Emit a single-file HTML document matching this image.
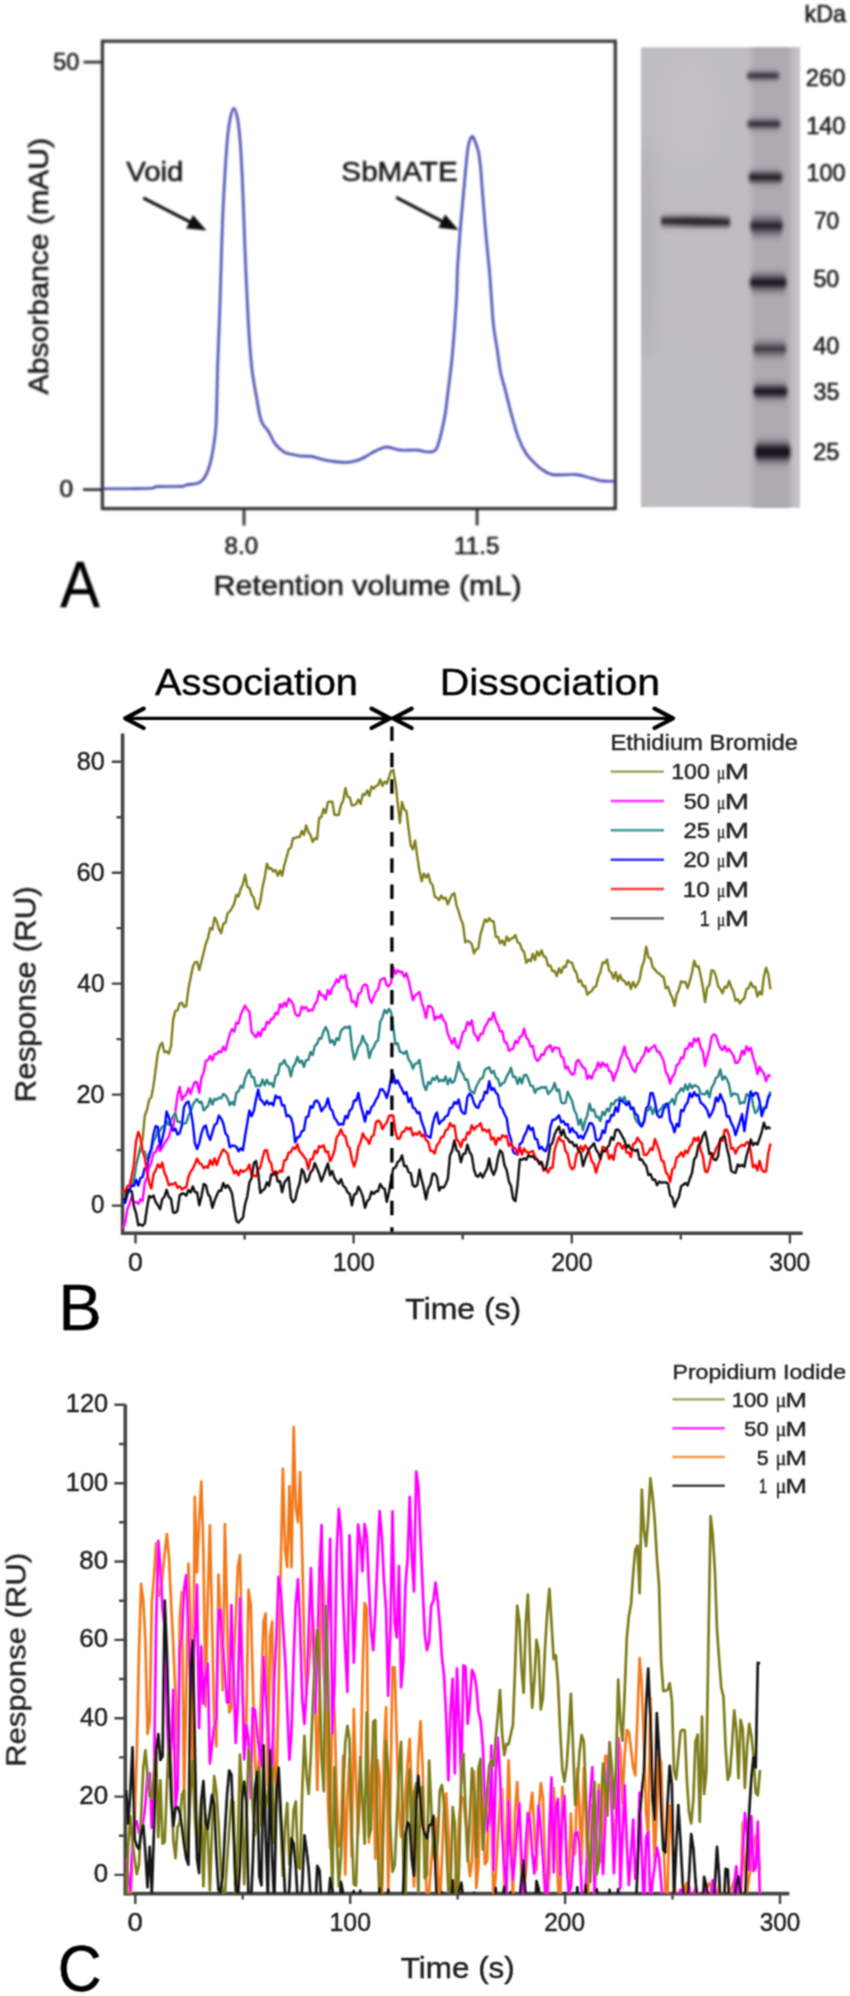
<!DOCTYPE html><html><head><meta charset="utf-8"><style>html,body{margin:0;padding:0;background:#fff;}body{width:850px;height:1996px;overflow:hidden;font-family:"Liberation Sans",sans-serif;}</style></head><body><svg width="850" height="1996" viewBox="0 0 850 1996" style="display:block">
<defs><filter id="bl1" x="-20%" y="-80%" width="140%" height="260%"><feGaussianBlur stdDeviation="1.5 1.9"/></filter><filter id="bl2" x="-20%" y="-80%" width="140%" height="260%"><feGaussianBlur stdDeviation="1.8 3"/></filter><filter id="bl3" x="-10%" y="-10%" width="120%" height="120%"><feGaussianBlur stdDeviation="6"/></filter><filter id="bl4" x="-20%" y="-10%" width="140%" height="120%"><feGaussianBlur stdDeviation="2.5"/></filter><filter id="glob" x="0" y="0" width="850" height="1996" filterUnits="userSpaceOnUse"><feGaussianBlur stdDeviation="0.85"/></filter><filter id="globB" x="0" y="0" width="850" height="1996" filterUnits="userSpaceOnUse"><feConvolveMatrix order="3" kernelMatrix="1 2 1 2 4 2 1 2 1" divisor="16" edgeMode="duplicate" preserveAlpha="false"/></filter></defs>
<rect width="850" height="1996" fill="#fff"/>
<g filter="url(#glob)">
<g>
<rect x="102.4" y="41.2" width="512.9" height="467.4" fill="none" stroke="#333333" stroke-width="3.2"/>
<path d="M83.5,62.2H102.4M83,489.6H102.4M244,508.6V525.5M477.1,508.6V525.5" stroke="#333333" stroke-width="2.8" fill="none"/>
<path d="M103.5,488.8C107.9,488.8 121.9,488.8 130,488.7C138.1,488.6 147.5,488.6 152,488.3C156.5,488 151.8,486.9 156.8,486.6C161.8,486.3 177.1,486.7 182,486.4C186.9,486.1 183.5,485.5 186,485C188.5,484.5 194.4,484.1 197,483.4C199.6,482.7 200.2,482.1 201.5,481C202.8,479.9 203.6,479 204.8,477C206,475 207.4,472.2 208.5,469C209.6,465.8 210.5,462.8 211.5,458C212.5,453.2 213.7,446.3 214.5,440C215.3,433.7 215.8,432.1 216.3,420C216.8,407.9 217.1,384.2 217.6,367.6C218.1,351 218.7,340.2 219.4,320.6C220.1,301.1 221,269.1 221.6,250.3C222.2,231.5 222.5,220.6 223.1,208C223.7,195.4 224.2,186.5 224.9,175C225.6,163.5 226.5,148.7 227.4,139C228.3,129.3 229.4,122.1 230.5,117C231.6,111.9 232.8,108.2 233.9,108.2C235,108.2 236.2,112.5 237.2,117C238.1,121.5 238.9,127.7 239.6,135C240.3,142.3 240.8,150.3 241.4,160.9C242,171.5 242.5,183.7 243.1,198.5C243.7,213.3 244.2,229.7 245,250C245.8,270.4 247.1,301 248.2,320.6C249.3,340.2 250.4,354.9 251.8,367.6C253.2,380.3 254.9,388.2 256.5,397C258.1,405.8 259.2,414.9 261.2,420.6C263.1,426.3 265.8,427.1 268.2,431C270.6,434.9 272.6,440.4 275.3,444C278.1,447.6 281.6,450.6 284.7,452.4C287.8,454.2 291.5,454.1 294.1,454.7C296.8,455.3 297.8,455.7 300.6,456C303.5,456.3 307.7,455.9 311.2,456.4C314.7,456.9 318.3,458.4 321.8,459.2C325.3,460 328.2,460.8 332.4,461.3C336.6,461.8 343,462.6 347.2,462.4C351.4,462.2 354.6,461.2 357.8,460.2C361,459.2 363.4,457.9 366.2,456.4C369,454.9 371.3,452.9 374.7,451.3C378.1,449.8 382.2,447.3 386.4,447.1C390.6,446.9 395,449.6 400.1,450.1C405.2,450.6 412.8,449.8 417,450.1C421.2,450.4 422.8,451.6 425.5,451.8C428.2,452 431.1,452.2 433,451.5C434.9,450.8 435.7,450.9 437.1,447.6C438.5,444.3 440.2,437.2 441.6,431.5C443,425.8 444.2,420.4 445.3,413.5C446.4,406.6 447.1,398.8 448.2,390C449.3,381.2 450.7,371.4 451.8,360.6C452.9,349.8 453.9,336.2 454.7,325.3C455.5,314.4 456.2,304.1 456.7,295C457.1,285.9 457,279.4 457.4,270.6C457.8,261.8 458.7,251 459.3,242.4C459.9,233.8 460.5,227 461.2,218.8C461.9,210.6 462.7,202 463.5,193.4C464.3,184.8 465.1,174.8 465.9,167C466.7,159.2 467.2,151.5 468.2,146.4C469.2,141.3 470.7,137.4 471.8,136.5C472.9,135.6 473.7,138.1 474.8,140.7C475.9,143.3 477.5,147.1 478.5,152C479.5,156.9 480.2,163.7 480.8,170C481.4,176.3 481.7,182.7 482.3,190C482.9,197.3 483.5,205.3 484.2,214C484.9,222.7 485.7,233 486.6,242.4C487.5,251.8 488.6,261.8 489.4,270.6C490.2,279.4 490.5,285.9 491.2,295C491.9,304.1 492.5,316.3 493.5,325.3C494.5,334.3 495.9,341 497.1,348.8C498.3,356.6 499.2,365.5 500.6,372.4C502,379.3 503.5,383.1 505.3,390C507.1,396.9 509,405.6 511.2,413.5C513.4,421.4 515.8,430.6 518.2,437.1C520.6,443.6 522.9,448.2 525.5,452.5C528.1,456.8 531.5,459.9 534.1,462.6C536.7,465.3 538.1,466.9 541.2,468.9C544.3,470.9 546.6,473.7 552.5,474.6C558.4,475.6 570.1,474 576.5,474.6C582.9,475.2 586.4,477.1 590.6,478.1C594.8,479.2 598,480.4 601.9,480.9C605.8,481.4 612,481.1 614,481.2" fill="none" stroke="#474bb0" stroke-width="2.6" stroke-linejoin="round"/>
<line x1="143.2" y1="197.9" x2="191.4" y2="222.6" stroke="#111" stroke-width="3.2"/>
<path d="M206.5,230.4 L186.2,228.4 L193.0,215.0Z" fill="#111"/>
<line x1="396.2" y1="197.4" x2="443.5" y2="222.1" stroke="#111" stroke-width="3.2"/>
<path d="M458.6,230.0 L438.3,227.8 L445.2,214.6Z" fill="#111"/>
</g>
<g>
<text transform="translate(53.16,69.50) scale(0.9742,1)" font-size="24.00" fill="#1e1e1e" font-family="Liberation Sans" stroke="#1e1e1e" stroke-width="0.6" >50</text>
<text transform="translate(59.52,497.10) scale(1.0366,1)" font-size="23.71" fill="#1e1e1e" font-family="Liberation Sans" stroke="#1e1e1e" stroke-width="0.6" >0</text>
<text transform="translate(224.62,553.90) scale(1.0140,1)" font-size="23.71" fill="#1e1e1e" font-family="Liberation Sans" stroke="#1e1e1e" stroke-width="0.6" >8.0</text>
<text transform="translate(454.08,553.90) scale(1.0066,1)" font-size="24.06" fill="#1e1e1e" font-family="Liberation Sans" stroke="#1e1e1e" stroke-width="0.6" >11.5</text>
<text transform="translate(213.56,595.20) scale(1.0824,1)" font-size="28.14" fill="#1a1a1a" font-family="Liberation Sans" stroke="#1a1a1a" stroke-width="0.6" >Retention volume (mL)</text>
<text transform="translate(47.60,394.40) rotate(-90) scale(1.0990,1)" font-size="27.45" fill="#1a1a1a" font-family="Liberation Sans" stroke="#1a1a1a" stroke-width="0.6">Absorbance (mAU)</text>
<text transform="translate(126.15,181.10) scale(1.0619,1)" font-size="27.72" fill="#1a1a1a" font-family="Liberation Sans" stroke="#1a1a1a" stroke-width="0.6" >Void</text>
<text transform="translate(341.37,180.90) scale(1.0430,1)" font-size="28.41" fill="#1a1a1a" font-family="Liberation Sans" stroke="#1a1a1a" stroke-width="0.6" >SbMATE</text>
<text transform="translate(60.30,607.10) scale(0.9207,1)" font-size="64.35" fill="#000" font-family="Liberation Sans" stroke="#000" stroke-width="0.45" >A</text>
<text transform="translate(804.48,21.70) scale(1.0130,1)" font-size="23.03" fill="#1a1a1a" font-family="Liberation Sans" stroke="#1a1a1a" stroke-width="0.6" >kDa</text>
<text transform="translate(805.71,85.60) scale(0.9742,1)" font-size="24.43" fill="#1a1a1a" font-family="Liberation Sans" stroke="#1a1a1a" stroke-width="0.6" >260</text>
<text transform="translate(806.13,133.70) scale(0.9635,1)" font-size="24.43" fill="#1a1a1a" font-family="Liberation Sans" stroke="#1a1a1a" stroke-width="0.6" >140</text>
<text transform="translate(806.55,181.20) scale(0.9586,1)" font-size="24.29" fill="#1a1a1a" font-family="Liberation Sans" stroke="#1a1a1a" stroke-width="0.6" >100</text>
<text transform="translate(813.96,229.20) scale(0.9251,1)" font-size="24.57" fill="#1a1a1a" font-family="Liberation Sans" stroke="#1a1a1a" stroke-width="0.6" >70</text>
<text transform="translate(813.47,287.30) scale(0.9437,1)" font-size="24.57" fill="#1a1a1a" font-family="Liberation Sans" stroke="#1a1a1a" stroke-width="0.6" >50</text>
<text transform="translate(813.23,353.60) scale(0.9473,1)" font-size="24.71" fill="#1a1a1a" font-family="Liberation Sans" stroke="#1a1a1a" stroke-width="0.6" >40</text>
<text transform="translate(813.47,400.20) scale(0.9428,1)" font-size="24.71" fill="#1a1a1a" font-family="Liberation Sans" stroke="#1a1a1a" stroke-width="0.6" >35</text>
<text transform="translate(813.22,459.60) scale(0.9982,1)" font-size="23.57" fill="#1a1a1a" font-family="Liberation Sans" stroke="#1a1a1a" stroke-width="0.6" >25</text>
</g>
<clipPath id="gelclip"><rect x="641" y="47.4" width="158.5" height="459.7"/></clipPath>
<g clip-path="url(#gelclip)">
<rect x="641" y="47.4" width="158.5" height="459.7" fill="#bfbdc2"/>
<g filter="url(#bl3)"><ellipse cx="647" cy="250" rx="7" ry="110" fill="#a9a6ad" opacity="0.6"/><ellipse cx="690" cy="110" rx="35" ry="60" fill="#c6c4c9" opacity="0.35"/><ellipse cx="680" cy="420" rx="35" ry="60" fill="#bebcc1" opacity="0.3"/></g>
<g filter="url(#bl4)"><rect x="752" y="20" width="39" height="520" fill="#adaab1"/><rect x="793" y="20" width="12" height="520" fill="#c4c2c7"/></g>
<rect x="747.5" y="71.3" width="31.0" height="9" rx="4" fill="#3a3640" opacity="0.35" filter="url(#bl2)"/>
<rect x="746.5" y="73.5" width="33.0" height="4.5" rx="3" fill="#1c1820" opacity="0.95" filter="url(#bl1)"/>
<rect x="748" y="118.5" width="31.700000000000045" height="11" rx="4" fill="#3a3640" opacity="0.4" filter="url(#bl2)"/>
<rect x="747" y="121.5" width="33.700000000000045" height="5" rx="3" fill="#1c1820" opacity="0.9" filter="url(#bl1)"/>
<rect x="749.5" y="170.8" width="32.0" height="13" rx="4" fill="#3a3640" opacity="0.45" filter="url(#bl2)"/>
<rect x="748.5" y="173.8" width="34.0" height="7" rx="3" fill="#1c1820" opacity="0.92" filter="url(#bl1)"/>
<rect x="751" y="216.0" width="31" height="20" rx="4" fill="#3a3640" opacity="0.55" filter="url(#bl2)"/>
<rect x="750" y="222.5" width="33" height="7" rx="3" fill="#1c1820" opacity="0.9" filter="url(#bl1)"/>
<rect x="750.7" y="273.0" width="34.89999999999998" height="19" rx="4" fill="#3a3640" opacity="0.55" filter="url(#bl2)"/>
<rect x="749.7" y="278.5" width="36.89999999999998" height="8" rx="3" fill="#1c1820" opacity="1.0" filter="url(#bl1)"/>
<rect x="753.9" y="341.0" width="31.700000000000045" height="16" rx="4" fill="#3a3640" opacity="0.45" filter="url(#bl2)"/>
<rect x="752.9" y="346.0" width="33.700000000000045" height="6" rx="3" fill="#1c1820" opacity="0.62" filter="url(#bl1)"/>
<rect x="754.4" y="383.0" width="32.200000000000045" height="17" rx="4" fill="#3a3640" opacity="0.5" filter="url(#bl2)"/>
<rect x="753.4" y="387.5" width="34.200000000000045" height="8" rx="3" fill="#1c1820" opacity="1.0" filter="url(#bl1)"/>
<rect x="755.9" y="440.5" width="33.60000000000002" height="23" rx="4" fill="#3a3640" opacity="0.55" filter="url(#bl2)"/>
<rect x="754.9" y="446.0" width="35.60000000000002" height="12" rx="3" fill="#1c1820" opacity="1.0" filter="url(#bl1)"/>
<rect x="661" y="216" width="69" height="11" rx="4" fill="#3a3640" opacity="0.4" filter="url(#bl2)"/>
<path d="M661,218 Q700,216 730,219 L730,225.5 Q700,226.5 661,224Z" fill="#26222c" filter="url(#bl1)"/>
</g>
</g><g filter="url(#globB)">
<g>
<path d="M122.6,733.6V1233.3H802.6" fill="none" stroke="#444444" stroke-width="3.6"/>
<path d="M111.8,1205.6H122.3M111.8,1094.6H122.3M111.8,983.6H122.3M111.8,872.7H122.3M111.8,761.7H122.3M116.5,1150.1H122.3M116.5,1039.1H122.3M116.5,928.1H122.3M116.5,817.2H122.3M135.5,1233.3V1243.5M353.6,1233.3V1243.5M571.8,1233.3V1243.5M789.9,1233.3V1243.5M244.6,1233.3V1239.5M462.7,1233.3V1239.5M680.8,1233.3V1239.5" stroke="#444444" stroke-width="2.4" fill="none"/>
</g>
<g fill="none" stroke-width="2.4" stroke-linejoin="round">
<path d="M123,1197 125.2,1196.9 127.4,1192.2 129.5,1189.3 131.7,1179.3 133.9,1178.3 136.1,1165.1 138.3,1155.9 140.4,1147.3 142.6,1139.5 144.8,1115.8 147,1110 149.2,1099.5 151.3,1097.5 153.5,1085.6 155.7,1069 157.9,1052.5 160.1,1045.5 162.2,1042.7 164.4,1052.3 166.6,1051.3 168.8,1053.6 171,1046.2 173.1,1020.1 175.3,1011.1 177.5,1010.4 179.7,1003.4 181.9,1002.8 184,1007 186.2,1006.1 188.4,989 190.6,977.9 192.8,966.7 194.9,962.3 197.1,961.8 199.3,970 201.5,961.1 203.7,952.5 205.8,943.8 208,938.1 210.2,927.9 212.4,929.6 214.6,917.4 216.7,921.1 218.9,928.9 221.1,933.2 223.3,923.7 225.5,922.9 227.6,913.3 229.8,911.3 232,908 234.2,903.6 236.4,894.8 238.5,896.5 240.7,888.8 242.9,884.2 245.1,874.8 247.3,886.9 249.4,887.9 251.6,894.7 253.8,897.9 256,907.5 258.2,908.9 260.3,901.2 262.5,887.2 264.7,877.6 266.9,863.6 269.1,868.7 271.2,868.3 273.4,871.5 275.6,870.1 277.8,875.8 280,870.4 282.1,875.7 284.3,865.2 286.5,857.5 288.7,849.2 290.9,847.8 293,838.2 295.2,838 297.4,836.9 299.6,837.2 301.8,831 303.9,835 306.1,825.5 308.3,831.9 310.5,835.1 312.7,842 314.8,838.3 317,839.2 319.2,817.8 321.4,817 323.6,808.9 325.7,813.1 327.9,802.2 330.1,801.6 332.3,801.8 334.5,814.8 336.6,815 338.8,814.8 341,804.9 343.2,800.7 345.4,788.1 347.5,796.5 349.7,797.3 351.9,805.5 354.1,805.1 356.3,803.8 358.4,799.5 360.6,804 362.8,794.2 365,795 367.2,790.5 369.3,796 371.5,786.4 373.7,788.8 375.9,786 378.1,785.1 380.2,779.4 382.4,785.9 384.6,781.5 386.8,783.6 389,777.5 391.1,770.8 393.3,770.1 395.5,783.2 397.7,803.2 399.9,823.2 402,802 404.2,809.4 406.4,811.2 408.6,829.1 410.8,845.8 412.9,849.5 415.1,840.4 417.3,856.7 419.5,871 421.7,881.2 423.8,873.5 426,877.5 428.2,874.1 430.4,882.4 432.6,885.1 434.7,896.4 436.9,897.7 439.1,900.1 441.3,895.6 443.5,898.7 445.6,897.7 447.8,904.3 450,898.9 452.2,894.5 454.4,893.2 456.5,905.4 458.7,911.7 460.9,919.1 463.1,925 465.3,942.3 467.4,940.9 469.6,941.7 471.8,944.1 474,953.4 476.2,949.1 478.3,948.4 480.5,934.4 482.7,927.2 484.9,919.4 487.1,921.9 489.2,918.3 491.4,921 493.6,921.4 495.8,936.7 498,936.9 500.1,943.4 502.3,940.4 504.5,945.2 506.7,936.5 508.9,940.9 511,938.5 513.2,937.8 515.4,935.1 517.6,942.2 519.8,943.5 521.9,949.4 524.1,951.9 526.3,962.9 528.5,959.6 530.7,961.2 532.8,953.8 535,960.1 537.2,951.5 539.4,955.7 541.6,950.3 543.7,956.5 545.9,957.3 548.1,965.9 550.3,965.4 552.5,971.4 554.6,970.9 556.8,976.2 559,968.3 561.2,973 563.4,966.6 565.5,967.3 567.7,960.3 569.9,962.2 572.1,962.8 574.3,969.8 576.4,972.8 578.6,982 580.8,980.2 583,986.4 585.2,985.8 587.3,994.8 589.5,992.4 591.7,991.2 593.9,987.4 596.1,986.3 598.2,977.4 600.4,972.1 602.6,962.4 604.8,963 607,959.6 609.1,970.5 611.3,972.6 613.5,978.6 615.7,972.2 617.9,981.2 620,974.9 622.2,980 624.4,980.8 626.6,984.7 628.8,982 630.9,989 633.1,981.9 635.3,987.3 637.5,983.9 639.7,978.9 641.8,967.3 644,961.2 646.2,946.6 648.4,957.3 650.6,958.3 652.7,967.1 654.9,969.6 657.1,972.2 659.3,973.7 661.5,976 663.6,977.1 665.8,988.4 668,986.7 670.2,993.5 672.4,997.9 674.5,1005.9 676.7,994.4 678.9,989.6 681.1,981.2 683.3,982.4 685.4,981.8 687.6,988.1 689.8,981.2 692,972.5 694.2,960.6 696.3,966.6 698.5,966.1 700.7,975.8 702.9,987.2 705.1,1002.1 707.2,987.8 709.4,985 711.6,970.3 713.8,970.9 716,976.4 718.1,986.2 720.3,989 722.5,993.3 724.7,986.7 726.9,987.6 729,981 731.2,986.8 733.4,991.8 735.6,1000.7 737.8,999.2 739.9,1003.5 742.1,1000.3 744.3,998.5 746.5,989.1 748.7,987.9 750.8,982.3 753,987 755.2,986.6 757.4,996.6 759.6,991.6 761.7,994.6 763.9,976.6 766.1,967.7 768.3,974.1 770.5,989.4" stroke="#7f7f1e"/>
<path d="M123,1228.1 125.2,1222.6 127.4,1209 129.5,1204.1 131.7,1196.8 133.9,1202.7 136.1,1201.9 138.3,1204 140.4,1199.2 142.6,1201 144.8,1182.4 147,1177.7 149.2,1167.1 151.3,1162.8 153.5,1153 155.7,1152.2 157.9,1145.7 160.1,1151.1 162.2,1147.7 164.4,1143.5 166.6,1140.3 168.8,1137.1 171,1128.7 173.1,1127.9 175.3,1112.5 177.5,1095.3 179.7,1087 181.9,1100 184,1096.4 186.2,1094.3 188.4,1088.2 190.6,1093.9 192.8,1086.7 194.9,1081.9 197.1,1082.7 199.3,1092.9 201.5,1077.5 203.7,1072.4 205.8,1060.8 208,1060.2 210.2,1055.9 212.4,1060.2 214.6,1053.9 216.7,1053.9 218.9,1051.2 221.1,1052.4 223.3,1046.8 225.5,1050.5 227.6,1042 229.8,1034.1 232,1028.9 234.2,1031.9 236.4,1022.5 238.5,1023.7 240.7,1014.7 242.9,1010 245.1,1005.6 247.3,1009.5 249.4,1011.6 251.6,1031.8 253.8,1034.8 256,1037.3 258.2,1032 260.3,1036.3 262.5,1028.9 264.7,1029.6 266.9,1021.8 269.1,1023.5 271.2,1018.8 273.4,1018.5 275.6,1012.7 277.8,1014.2 280,1004.2 282.1,1007.4 284.3,1002.5 286.5,1006.5 288.7,998.5 290.9,1001.1 293,1003.7 295.2,1013.4 297.4,1016.1 299.6,1015.3 301.8,1006.5 303.9,1008.6 306.1,1006.9 308.3,1011.2 310.5,1009.7 312.7,1010.4 314.8,1004.3 317,1001.3 319.2,991.1 321.4,995.4 323.6,995.4 325.7,999.7 327.9,990 330.1,994.4 332.3,987.9 334.5,984.6 336.6,979.4 338.8,982.3 341,975.7 343.2,978.2 345.4,974.9 347.5,988.4 349.7,990.6 351.9,1001.7 354.1,1001.4 356.3,1006.6 358.4,994.1 360.6,993 362.8,986.2 365,984.3 367.2,985.7 369.3,998.1 371.5,1002.9 373.7,997.4 375.9,991.6 378.1,989.4 380.2,980.4 382.4,978.8 384.6,978.2 386.8,985.5 389,986.2 391.1,982.5 393.3,967.3 395.5,974 397.7,970.2 399.9,972 402,971.8 404.2,976.8 406.4,973.2 408.6,980.5 410.8,990.3 412.9,1000.2 415.1,995.5 417.3,994 419.5,991.9 421.7,1002.3 423.8,1008.6 426,1018.1 428.2,1005.9 430.4,1006 432.6,1008.5 434.7,1020 436.9,1016.5 439.1,1018.1 441.3,1014.5 443.5,1020.2 445.6,1022.7 447.8,1033.7 450,1039 452.2,1043.8 454.4,1038.1 456.5,1046.6 458.7,1048.3 460.9,1040.1 463.1,1032 465.3,1030.5 467.4,1022.1 469.6,1025 471.8,1020.3 474,1033.3 476.2,1036.2 478.3,1040.7 480.5,1033.9 482.7,1033.9 484.9,1026.6 487.1,1023.7 489.2,1018.7 491.4,1019.7 493.6,1012.4 495.8,1020.9 498,1024.8 500.1,1031.4 502.3,1031.2 504.5,1042.1 506.7,1042.7 508.9,1050.8 511,1049.5 513.2,1048.6 515.4,1040.7 517.6,1043.2 519.8,1037.1 521.9,1036 524.1,1028.7 526.3,1037.6 528.5,1039.9 530.7,1046.5 532.8,1045.9 535,1057.3 537.2,1060.9 539.4,1059.3 541.6,1054.2 543.7,1055 545.9,1049 548.1,1047 550.3,1045.1 552.5,1051.7 554.6,1047.3 556.8,1048 559,1048.3 561.2,1056.4 563.4,1057.9 565.5,1068.5 567.7,1066.5 569.9,1072.1 572.1,1074.8 574.3,1073.6 576.4,1061.7 578.6,1059.8 580.8,1064 583,1067.6 585.2,1068.4 587.3,1078.9 589.5,1075.5 591.7,1078.7 593.9,1072 596.1,1069.4 598.2,1062.4 600.4,1067.6 602.6,1062.5 604.8,1065.9 607,1064.2 609.1,1070.9 611.3,1071.9 613.5,1080.7 615.7,1073.8 617.9,1068.6 620,1060.7 622.2,1054.7 624.4,1046.4 626.6,1056.1 628.8,1059.2 630.9,1065 633.1,1069.8 635.3,1072.1 637.5,1063.9 639.7,1062.9 641.8,1057.8 644,1055.3 646.2,1047.2 648.4,1051.8 650.6,1048.7 652.7,1046.9 654.9,1045.3 657.1,1051.7 659.3,1051.6 661.5,1056.5 663.6,1060.5 665.8,1071.8 668,1075.7 670.2,1083.5 672.4,1076.7 674.5,1074 676.7,1065.1 678.9,1063.8 681.1,1057.5 683.3,1058.4 685.4,1048.6 687.6,1048.9 689.8,1042.8 692,1046.6 694.2,1038.6 696.3,1041.3 698.5,1038.3 700.7,1047.9 702.9,1051.5 705.1,1066.1 707.2,1057.1 709.4,1049.2 711.6,1037.1 713.8,1034.3 716,1035.7 718.1,1042.4 720.3,1047.8 722.5,1050.1 724.7,1045.8 726.9,1051.3 729,1048.8 731.2,1052.3 733.4,1055.6 735.6,1063.1 737.8,1062.5 739.9,1058.8 742.1,1050.7 744.3,1054.4 746.5,1046.3 748.7,1050.6 750.8,1047.7 753,1057.3 755.2,1063.7 757.4,1074.1 759.6,1066.7 761.7,1070.7 763.9,1073.4 766.1,1081.1 768.3,1075.2 770.5,1076.2" stroke="#ff00ff"/>
<path d="M123,1193.7 125.2,1193.3 127.4,1188 129.5,1191.1 131.7,1184.7 133.9,1180 136.1,1164.2 138.3,1156.5 140.4,1148.3 142.6,1152.2 144.8,1151.5 147,1158.8 149.2,1158.4 151.3,1150.8 153.5,1141 155.7,1137.4 157.9,1129.9 160.1,1130.8 162.2,1126.5 164.4,1127.3 166.6,1120.9 168.8,1125.1 171,1120.4 173.1,1116.3 175.3,1113 177.5,1121.7 179.7,1121.6 181.9,1124 184,1123.6 186.2,1122.9 188.4,1115.8 190.6,1111.5 192.8,1104.9 194.9,1101.3 197.1,1099.1 199.3,1102.7 201.5,1101.7 203.7,1110.5 205.8,1107.9 208,1106 210.2,1098.4 212.4,1104.5 214.6,1098.8 216.7,1099.8 218.9,1097.5 221.1,1098.5 223.3,1094 225.5,1095.3 227.6,1098.7 229.8,1105 232,1102 234.2,1105 236.4,1092.6 238.5,1091.4 240.7,1085.7 242.9,1088 245.1,1078.6 247.3,1073.1 249.4,1069.5 251.6,1077.1 253.8,1077.2 256,1086.4 258.2,1085.5 260.3,1086.2 262.5,1079.6 264.7,1085.4 266.9,1079.8 269.1,1084.3 271.2,1083.1 273.4,1086.9 275.6,1075.7 277.8,1074.5 280,1064 282.1,1064 284.3,1060 286.5,1065.4 288.7,1067 290.9,1076.5 293,1067 295.2,1063.6 297.4,1056.8 299.6,1062.6 301.8,1060.5 303.9,1066.8 306.1,1060.1 308.3,1059.8 310.5,1052 312.7,1055 314.8,1045.9 317,1044 319.2,1038.2 321.4,1038.5 323.6,1031 325.7,1027.1 327.9,1031.6 330.1,1042.6 332.3,1040.2 334.5,1045.1 336.6,1038.2 338.8,1040 341,1030.8 343.2,1028.6 345.4,1026.8 347.5,1027.8 349.7,1026.2 351.9,1046.3 354.1,1059.2 356.3,1053.7 358.4,1046.7 360.6,1043.8 362.8,1035.8 365,1042.3 367.2,1044.9 369.3,1058 371.5,1050.6 373.7,1047.2 375.9,1042.1 378.1,1040.2 380.2,1021.8 382.4,1017.7 384.6,1010 386.8,1013.1 389,1008.8 391.1,1012.1 393.3,1028.2 395.5,1044.3 397.7,1043.3 399.9,1051.9 402,1052.4 404.2,1053.7 406.4,1050.9 408.6,1059.7 410.8,1062.3 412.9,1068.7 415.1,1063.6 417.3,1063.4 419.5,1059.9 421.7,1073.5 423.8,1085.1 426,1090.2 428.2,1082.1 430.4,1083.9 432.6,1077.9 434.7,1080 436.9,1076.1 439.1,1081.6 441.3,1079.7 443.5,1081.3 445.6,1076.4 447.8,1084.3 450,1078.4 452.2,1082.9 454.4,1081.1 456.5,1073 458.7,1062.2 460.9,1071.3 463.1,1073.8 465.3,1079.8 467.4,1079.5 469.6,1089.6 471.8,1091.9 474,1093.4 476.2,1086.7 478.3,1082.8 480.5,1078.7 482.7,1078 484.9,1069.8 487.1,1068.3 489.2,1067.3 491.4,1073.1 493.6,1070.7 495.8,1077.5 498,1079 500.1,1086.1 502.3,1083.4 504.5,1082.3 506.7,1076.5 508.9,1072.9 511,1067.7 513.2,1077 515.4,1076.6 517.6,1083.8 519.8,1077.6 521.9,1083.5 524.1,1075.1 526.3,1074.8 528.5,1079.6 530.7,1085.9 532.8,1085.9 535,1092.8 537.2,1088.6 539.4,1088.7 541.6,1087 543.7,1087.8 545.9,1086.9 548.1,1094 550.3,1091.6 552.5,1088.9 554.6,1082.9 556.8,1091 559,1089.4 561.2,1102.4 563.4,1103.3 565.5,1102.7 567.7,1091.8 569.9,1096.4 572.1,1101.1 574.3,1110.3 576.4,1114.3 578.6,1124.8 580.8,1119.2 583,1130.1 585.2,1120.8 587.3,1115.3 589.5,1103.7 591.7,1110.8 593.9,1109.4 596.1,1117 598.2,1116.7 600.4,1121.1 602.6,1111.7 604.8,1115.2 607,1108.6 609.1,1111.2 611.3,1103.2 613.5,1104.6 615.7,1100.1 617.9,1100.3 620,1097.3 622.2,1101.3 624.4,1096.8 626.6,1103.2 628.8,1101.6 630.9,1108.6 633.1,1109.2 635.3,1118.8 637.5,1122.4 639.7,1124.3 641.8,1123.2 644,1121.6 646.2,1111.5 648.4,1110 650.6,1106.8 652.7,1114.1 654.9,1107.9 657.1,1113.5 659.3,1110.4 661.5,1108.6 663.6,1104.8 665.8,1107.6 668,1104.9 670.2,1102.2 672.4,1099 674.5,1104.6 676.7,1094.5 678.9,1092.4 681.1,1088.2 683.3,1091.3 685.4,1084.5 687.6,1090 689.8,1083.8 692,1088.1 694.2,1085.2 696.3,1085.9 698.5,1087.3 700.7,1093.6 702.9,1094 705.1,1094.4 707.2,1090.5 709.4,1097.4 711.6,1087.6 713.8,1084.2 716,1077.7 718.1,1076.4 720.3,1069.3 722.5,1079.8 724.7,1076.3 726.9,1079.2 729,1084.3 731.2,1096.3 733.4,1093.5 735.6,1094 737.8,1094.6 739.9,1103.7 742.1,1102.3 744.3,1103 746.5,1094.1 748.7,1096 750.8,1091.2 753,1104.7 755.2,1113.1 757.4,1111.4 759.6,1104 761.7,1109.6 763.9,1107.5 766.1,1108 768.3,1096.7 770.5,1091.4" stroke="#2a8282"/>
<path d="M123,1202.8 125.2,1202.9 127.4,1194.5 129.5,1189.4 131.7,1185.1 133.9,1186 136.1,1179.7 138.3,1185.7 140.4,1178.1 142.6,1176.9 144.8,1168.1 147,1167.8 149.2,1153.7 151.3,1148.7 153.5,1134.2 155.7,1126 157.9,1127 160.1,1147.2 162.2,1139.1 164.4,1129.6 166.6,1111.5 168.8,1117.1 171,1125.4 173.1,1130.7 175.3,1128.5 177.5,1134.6 179.7,1133 181.9,1125.4 184,1107.2 186.2,1102.9 188.4,1101.5 190.6,1110.5 192.8,1123.1 194.9,1143.3 197.1,1149 199.3,1143.1 201.5,1133.1 203.7,1127 205.8,1125.5 208,1135.1 210.2,1139.9 212.4,1132.3 214.6,1124.9 216.7,1123.6 218.9,1115.6 221.1,1118.6 223.3,1123.5 225.5,1133.5 227.6,1135.8 229.8,1147.2 232,1145.6 234.2,1145.8 236.4,1146.8 238.5,1151.3 240.7,1148.2 242.9,1150.3 245.1,1135.7 247.3,1123 249.4,1110.5 251.6,1116.3 253.8,1111.1 256,1099.5 258.2,1089.5 260.3,1099.5 262.5,1101.3 264.7,1104.8 266.9,1100.8 269.1,1104.4 271.2,1102.8 273.4,1105.4 275.6,1095.5 277.8,1097.9 280,1097.1 282.1,1105.4 284.3,1105.3 286.5,1116.2 288.7,1115.3 290.9,1117.6 293,1124.8 295.2,1142.4 297.4,1137.4 299.6,1136.6 301.8,1131.4 303.9,1130.2 306.1,1117.4 308.3,1116.4 310.5,1106.2 312.7,1107.8 314.8,1101.3 317,1100.5 319.2,1103.6 321.4,1111.2 323.6,1108 325.7,1105.7 327.9,1098.4 330.1,1108.3 332.3,1110.7 334.5,1118.1 336.6,1120.6 338.8,1124.8 341,1123.9 343.2,1124.6 345.4,1115.9 347.5,1118.2 349.7,1110.7 351.9,1108.7 354.1,1100.5 356.3,1100.5 358.4,1092.9 360.6,1104.9 362.8,1112.8 365,1121.6 367.2,1111.3 369.3,1113.6 371.5,1107.2 373.7,1105 375.9,1099.8 378.1,1096.5 380.2,1089.5 382.4,1089.3 384.6,1092.4 386.8,1098 389,1089.6 391.1,1078.3 393.3,1074.4 395.5,1083.4 397.7,1080.5 399.9,1085.6 402,1089.2 404.2,1094.1 406.4,1092 408.6,1102.1 410.8,1097.9 412.9,1107.7 415.1,1108.7 417.3,1113.1 419.5,1112.2 421.7,1121.9 423.8,1127.4 426,1135.5 428.2,1136.5 430.4,1137.8 432.6,1124.7 434.7,1116.7 436.9,1112.4 439.1,1123.9 441.3,1121.3 443.5,1119.8 445.6,1116.3 447.8,1115.7 450,1108.1 452.2,1107.6 454.4,1102 456.5,1104 458.7,1099.5 460.9,1110 463.1,1113.3 465.3,1113.5 467.4,1097.2 469.6,1093.6 471.8,1096.1 474,1103.1 476.2,1107.1 478.3,1107.9 480.5,1101.3 482.7,1100 484.9,1091.7 487.1,1093.2 489.2,1081.3 491.4,1090 493.6,1088.1 495.8,1092.4 498,1095 500.1,1106.4 502.3,1108.6 504.5,1114.2 506.7,1118.3 508.9,1133.2 511,1139.5 513.2,1151.9 515.4,1153.7 517.6,1154.8 519.8,1143.9 521.9,1142.6 524.1,1136.1 526.3,1132.1 528.5,1125.5 530.7,1129.9 532.8,1127.9 535,1138.7 537.2,1139.5 539.4,1149 541.6,1146.7 543.7,1150.1 545.9,1151.2 548.1,1144.3 550.3,1127.1 552.5,1120 554.6,1119.7 556.8,1118 559,1115.3 561.2,1122.3 563.4,1121 565.5,1124.8 567.7,1124.1 569.9,1132.5 572.1,1128 574.3,1131.8 576.4,1132.8 578.6,1138 580.8,1135.7 583,1138.7 585.2,1133.8 587.3,1129.4 589.5,1123.2 591.7,1123.1 593.9,1127.3 596.1,1139.7 598.2,1140.6 600.4,1138.8 602.6,1130.5 604.8,1132.9 607,1121 609.1,1121.8 611.3,1115 613.5,1115.6 615.7,1107.2 617.9,1111.7 620,1099.8 622.2,1100.8 624.4,1102.8 626.6,1105.2 628.8,1101.6 630.9,1109 633.1,1107.4 635.3,1114 637.5,1115.2 639.7,1124.6 641.8,1126.6 644,1121.7 646.2,1108.1 648.4,1106 650.6,1092.9 652.7,1093.1 654.9,1101.5 657.1,1114.3 659.3,1117.4 661.5,1116.9 663.6,1108.9 665.8,1103.9 668,1103.8 670.2,1120.6 672.4,1125 674.5,1132.3 676.7,1123.7 678.9,1126.6 681.1,1110 683.3,1111.3 685.4,1105.5 687.6,1102.5 689.8,1093.3 692,1097.2 694.2,1092.1 696.3,1095.7 698.5,1094.7 700.7,1102.8 702.9,1104.3 705.1,1106.9 707.2,1110.2 709.4,1117.2 711.6,1113.5 713.8,1108.2 716,1097.5 718.1,1101.5 720.3,1094.1 722.5,1099.6 724.7,1104.3 726.9,1116.6 729,1116.2 731.2,1122.9 733.4,1126.9 735.6,1135.2 737.8,1128.2 739.9,1121.7 742.1,1114.1 744.3,1131.2 746.5,1116.3 748.7,1102.4 750.8,1091.8 753,1096.2 755.2,1092.8 757.4,1093.4 759.6,1101.4 761.7,1116.2 763.9,1109.4 766.1,1107 768.3,1097.5 770.5,1093.9" stroke="#0000ff"/>
<path d="M123,1189.9 125.2,1192.6 127.4,1185.9 129.5,1185.7 131.7,1176.6 133.9,1164.2 136.1,1140.9 138.3,1132 140.4,1137.1 142.6,1150 144.8,1158.2 147,1171.7 149.2,1183.1 151.3,1188.6 153.5,1174.4 155.7,1170.4 157.9,1164.3 160.1,1167.7 162.2,1162.6 164.4,1172.5 166.6,1177.4 168.8,1185.3 171,1184 173.1,1184.2 175.3,1182.6 177.5,1187.7 179.7,1186.4 181.9,1189.4 184,1188 186.2,1187.4 188.4,1176.9 190.6,1171.8 192.8,1168.5 194.9,1164.2 197.1,1158.5 199.3,1163.2 201.5,1164.2 203.7,1168.3 205.8,1166.4 208,1167.7 210.2,1160.2 212.4,1165 214.6,1158.3 216.7,1165.1 218.9,1158.4 221.1,1153.4 223.3,1149.3 225.5,1151.5 227.6,1153.5 229.8,1163.9 232,1167.1 234.2,1173.3 236.4,1170.7 238.5,1175.3 240.7,1169.9 242.9,1171.9 245.1,1170.6 247.3,1169 249.4,1164.5 251.6,1175.3 253.8,1175.6 256,1176.4 258.2,1169.7 260.3,1167.4 262.5,1158 264.7,1150.4 266.9,1150.2 269.1,1160.6 271.2,1163.3 273.4,1175.2 275.6,1171.3 277.8,1173.5 280,1170.6 282.1,1171.8 284.3,1160.5 286.5,1159.7 288.7,1152.4 290.9,1152.4 293,1147.5 295.2,1148.9 297.4,1144.2 299.6,1151.4 301.8,1153.7 303.9,1156.7 306.1,1159.6 308.3,1169.2 310.5,1159.3 312.7,1159.1 314.8,1150.7 317,1153.2 319.2,1146.1 321.4,1147.2 323.6,1145.2 325.7,1152.1 327.9,1151.3 330.1,1161.1 332.3,1157 334.5,1150.6 336.6,1137.6 338.8,1134.5 341,1129.3 343.2,1134.9 345.4,1136.3 347.5,1145.6 349.7,1148 351.9,1159.5 354.1,1166.5 356.3,1159.8 358.4,1146.8 360.6,1142 362.8,1133.4 365,1137.7 367.2,1139.5 369.3,1144 371.5,1136.7 373.7,1135.1 375.9,1122.5 378.1,1120.5 380.2,1122.2 382.4,1129.1 384.6,1125.2 386.8,1122.5 389,1116.1 391.1,1115.2 393.3,1115.6 395.5,1132 397.7,1138.9 399.9,1138.5 402,1132.1 404.2,1131.6 406.4,1127.5 408.6,1129.3 410.8,1127.8 412.9,1135.5 415.1,1133.4 417.3,1134.6 419.5,1131.4 421.7,1136.4 423.8,1134.5 426,1140 428.2,1141.7 430.4,1150.8 432.6,1151 434.7,1153.5 436.9,1145 439.1,1142.9 441.3,1137.1 443.5,1136.6 445.6,1130.3 447.8,1129.4 450,1123.1 452.2,1126.3 454.4,1125.4 456.5,1139.5 458.7,1141.4 460.9,1147.1 463.1,1139.4 465.3,1140 467.4,1132.4 469.6,1133.7 471.8,1125.2 474,1129.8 476.2,1126.7 478.3,1125.8 480.5,1123.2 482.7,1130.6 484.9,1129.5 487.1,1131.8 489.2,1129.7 491.4,1139.7 493.6,1137.4 495.8,1144.7 498,1137.9 500.1,1139.9 502.3,1135.3 504.5,1136.9 506.7,1135.7 508.9,1146.1 511,1143.3 513.2,1147.4 515.4,1148.6 517.6,1154 519.8,1147.1 521.9,1154.6 524.1,1148.6 526.3,1152 528.5,1152.8 530.7,1152 532.8,1150.9 535,1156.7 537.2,1159.8 539.4,1161.4 541.6,1163.6 543.7,1170.7 545.9,1168.8 548.1,1172.6 550.3,1168 552.5,1167.8 554.6,1150.2 556.8,1143 559,1137 561.2,1140.7 563.4,1141 565.5,1150.9 567.7,1154 569.9,1165.5 572.1,1169.4 574.3,1167.1 576.4,1155.2 578.6,1151.3 580.8,1146.1 583,1151.2 585.2,1145.3 587.3,1148.7 589.5,1152.7 591.7,1161 593.9,1164 596.1,1172.8 598.2,1164.9 600.4,1159.5 602.6,1146.7 604.8,1147.9 607,1149.5 609.1,1158.9 611.3,1155 613.5,1159.8 615.7,1147.3 617.9,1143 620,1143.6 622.2,1148.7 624.4,1145.2 626.6,1152.6 628.8,1152.5 630.9,1157.1 633.1,1144.2 635.3,1143.2 637.5,1137.7 639.7,1141.4 641.8,1143.1 644,1154.9 646.2,1155.1 648.4,1152.5 650.6,1148.3 652.7,1150 654.9,1138.9 657.1,1144.8 659.3,1151.1 661.5,1160.6 663.6,1161.3 665.8,1172.1 668,1175 670.2,1181.8 672.4,1168.9 674.5,1167.6 676.7,1157.5 678.9,1156.1 681.1,1152.4 683.3,1156.5 685.4,1150.6 687.6,1153.1 689.8,1146.8 692,1144.4 694.2,1137.8 696.3,1140.7 698.5,1137.1 700.7,1150.1 702.9,1156.1 705.1,1171.4 707.2,1172.2 709.4,1165.6 711.6,1154.7 713.8,1155.1 716,1148.9 718.1,1145.4 720.3,1140.2 722.5,1140.9 724.7,1130 726.9,1129.8 729,1135.2 731.2,1148.8 733.4,1148.1 735.6,1153.6 737.8,1148.2 739.9,1146.6 742.1,1144.7 744.3,1146.1 746.5,1142.5 748.7,1142.2 750.8,1151.8 753,1167.2 755.2,1165 757.4,1170.4 759.6,1160.8 761.7,1169.7 763.9,1171.8 766.1,1171.3 768.3,1153.3 770.5,1143.4" stroke="#ff0000"/>
<path d="M123,1198.7 125.2,1200.1 127.4,1189.8 129.5,1190.9 131.7,1191.2 133.9,1206.3 136.1,1213.4 138.3,1225.2 140.4,1224.5 142.6,1225.7 144.8,1223.3 147,1207.9 149.2,1196 151.3,1197.4 153.5,1195.6 155.7,1202 157.9,1205.2 160.1,1209.3 162.2,1199.2 164.4,1196.8 166.6,1189.8 168.8,1197 171,1198.7 173.1,1212.4 175.3,1212.9 177.5,1210.5 179.7,1195.5 181.9,1193.5 184,1193.7 186.2,1195.7 188.4,1190.1 190.6,1192.5 192.8,1186.5 194.9,1192 197.1,1192.4 199.3,1205.3 201.5,1195.9 203.7,1184 205.8,1185.1 208,1194 210.2,1197.2 212.4,1207.8 214.6,1200.6 216.7,1195.5 218.9,1190.7 221.1,1190.9 223.3,1182.9 225.5,1187.8 227.6,1185.2 229.8,1188.5 232,1193.5 234.2,1208.1 236.4,1220.8 238.5,1222.6 240.7,1219.9 242.9,1217.8 245.1,1204.1 247.3,1196.2 249.4,1182.4 251.6,1178.1 253.8,1163.4 256,1161 258.2,1173.3 260.3,1192.8 262.5,1190.5 264.7,1188.9 266.9,1182.3 269.1,1185.9 271.2,1174.4 273.4,1174.6 275.6,1171.7 277.8,1181.6 280,1181.3 282.1,1192.3 284.3,1182.9 286.5,1179.7 288.7,1176.9 290.9,1197.9 293,1202.2 295.2,1199.8 297.4,1189.8 299.6,1183.5 301.8,1169.2 303.9,1172.5 306.1,1182.2 308.3,1179.9 310.5,1172.4 312.7,1170 314.8,1163.1 317,1168.5 319.2,1173.8 321.4,1181.3 323.6,1175.4 325.7,1169.5 327.9,1163.5 330.1,1175.3 332.3,1171 334.5,1178.1 336.6,1181.2 338.8,1183.7 341,1179 343.2,1185.9 345.4,1187.5 347.5,1192.3 349.7,1193.7 351.9,1205.4 354.1,1194.7 356.3,1193.7 358.4,1186.7 360.6,1190.9 362.8,1196.4 365,1207.8 367.2,1201.1 369.3,1199.2 371.5,1191.7 373.7,1193.9 375.9,1191.2 378.1,1191.2 380.2,1184 382.4,1187.6 384.6,1188.8 386.8,1201.8 389,1192 391.1,1179.5 393.3,1168.4 395.5,1167.5 397.7,1162 399.9,1160.4 402,1155.4 404.2,1166 406.4,1165.9 408.6,1172.2 410.8,1173.3 412.9,1185.2 415.1,1186.7 417.3,1184.9 419.5,1169.7 421.7,1179.9 423.8,1187.9 426,1199.2 428.2,1188.6 430.4,1184.7 432.6,1173.9 434.7,1173.7 436.9,1177.1 439.1,1190.6 441.3,1186.9 443.5,1187.6 445.6,1184.4 447.8,1178.8 450,1155.6 452.2,1150.6 454.4,1140.4 456.5,1150.1 458.7,1151.8 460.9,1162.3 463.1,1154.2 465.3,1153.5 467.4,1144.7 469.6,1152 471.8,1155.6 474,1169.6 476.2,1175.8 478.3,1176.5 480.5,1173.3 482.7,1177.5 484.9,1172.7 487.1,1168.7 489.2,1158.4 491.4,1169.7 493.6,1174.8 495.8,1169.7 498,1157.9 500.1,1150.2 502.3,1152.9 504.5,1165.3 506.7,1170.2 508.9,1181.5 511,1186.1 513.2,1199 515.4,1201.2 517.6,1184.2 519.8,1159.5 521.9,1159.7 524.1,1158.4 526.3,1159.7 528.5,1154.9 530.7,1157 532.8,1155.8 535,1159 537.2,1159.6 539.4,1164.3 541.6,1161.9 543.7,1169.1 545.9,1168.9 548.1,1159 550.3,1145.6 552.5,1142.7 554.6,1134.5 556.8,1129.8 559,1126.6 561.2,1135.5 563.4,1129.9 565.5,1137.1 567.7,1138.7 569.9,1142.4 572.1,1141.9 574.3,1146.2 576.4,1144.7 578.6,1150.9 580.8,1152.6 583,1166.1 585.2,1158.9 587.3,1153.8 589.5,1148.3 591.7,1146.2 593.9,1143.2 596.1,1149.8 598.2,1152.7 600.4,1158.9 602.6,1150.2 604.8,1151.6 607,1147.9 609.1,1145.1 611.3,1137.2 613.5,1139.7 615.7,1130.1 617.9,1129.5 620,1132 622.2,1136.3 624.4,1140.2 626.6,1147.7 628.8,1145 630.9,1149.2 633.1,1149.4 635.3,1151 637.5,1149.4 639.7,1159.7 641.8,1159.5 644,1163.4 646.2,1166 648.4,1175 650.6,1174.1 652.7,1179.9 654.9,1179.4 657.1,1185.2 659.3,1181.5 661.5,1182.8 663.6,1182.3 665.8,1182.4 668,1183.5 670.2,1195.4 672.4,1197.6 674.5,1206.7 676.7,1201.3 678.9,1197 681.1,1186.4 683.3,1184.7 685.4,1183 687.6,1185.5 689.8,1178.7 692,1172.9 694.2,1159.3 696.3,1156.6 698.5,1145.4 700.7,1143.2 702.9,1135.7 705.1,1131.8 707.2,1141 709.4,1154.1 711.6,1153.1 713.8,1159.6 716,1160.1 718.1,1156.1 720.3,1139.2 722.5,1137.1 724.7,1136.2 726.9,1148 729,1156.4 731.2,1170.8 733.4,1172.4 735.6,1172.8 737.8,1164.4 739.9,1166.4 742.1,1164.8 744.3,1166.9 746.5,1156.1 748.7,1148.7 750.8,1139.5 753,1145.2 755.2,1142.9 757.4,1144.5 759.6,1138.4 761.7,1132.1 763.9,1122.7 766.1,1128.8 768.3,1127.2 770.5,1128.9" stroke="#0a0a0a"/>
</g>
<g>
<line x1="391.9" y1="726.5" x2="391.9" y2="1232" stroke="#000" stroke-width="3.3" stroke-dasharray="14.5 11.85"/>
<path d="M125,718.3H673" stroke="#000" stroke-width="3.2" fill="none"/>
<path d="M143.6,708.6L125.2,718.3L143.6,728M371.6,708.6L390,718.3L371.6,728M411.6,708.6L393.2,718.3L411.6,728M654.6,708.6L673,718.3L654.6,728" stroke="#000" stroke-width="4.2" fill="none" stroke-linecap="round" stroke-linejoin="round"/>
<text transform="translate(155.10,695.20) scale(1.0857,1)" font-size="36.55" fill="#000" font-family="Liberation Sans" stroke="#000" stroke-width="0.45" >Association</text>
<text transform="translate(439.63,695.20) scale(1.0936,1)" font-size="37.38" fill="#000" font-family="Liberation Sans" stroke="#000" stroke-width="0.45" >Dissociation</text>
<text transform="translate(76.66,769.58) scale(0.9817,1)" font-size="25.71" fill="#222" font-family="Liberation Sans" stroke="#222" stroke-width="0.45" >80</text>
<text transform="translate(76.53,880.56) scale(0.9864,1)" font-size="25.71" fill="#222" font-family="Liberation Sans" stroke="#222" stroke-width="0.45" >60</text>
<text transform="translate(77.31,991.54) scale(0.9584,1)" font-size="25.71" fill="#222" font-family="Liberation Sans" stroke="#222" stroke-width="0.45" >40</text>
<text transform="translate(76.53,1102.52) scale(0.9864,1)" font-size="25.71" fill="#222" font-family="Liberation Sans" stroke="#222" stroke-width="0.45" >20</text>
<text transform="translate(91.03,1212.70) scale(0.9295,1)" font-size="26.00" fill="#222" font-family="Liberation Sans" stroke="#222" stroke-width="0.45" >0</text>
<text transform="translate(128.03,1271.20) scale(1.0145,1)" font-size="26.29" fill="#222" font-family="Liberation Sans" stroke="#222" stroke-width="0.45" >0</text>
<text transform="translate(332.81,1271.20) scale(0.9590,1)" font-size="26.29" fill="#222" font-family="Liberation Sans" stroke="#222" stroke-width="0.45" >100</text>
<text transform="translate(551.26,1271.20) scale(0.9439,1)" font-size="26.29" fill="#222" font-family="Liberation Sans" stroke="#222" stroke-width="0.45" >200</text>
<text transform="translate(769.21,1271.20) scale(0.9379,1)" font-size="26.29" fill="#222" font-family="Liberation Sans" stroke="#222" stroke-width="0.45" >300</text>
<text transform="translate(405.36,1318.90) scale(1.0562,1)" font-size="30.21" fill="#222" font-family="Liberation Sans" stroke="#222" stroke-width="0.45" >Time (s)</text>
<text transform="translate(35.50,1102.41) rotate(-90) scale(1.0440,1)" font-size="30.07" fill="#222" font-family="Liberation Sans" stroke="#222" stroke-width="0.45">Response (RU)</text>
<text transform="translate(58.41,1329.70) scale(1.0102,1)" font-size="64.20" fill="#000" font-family="Liberation Sans" stroke="#000" stroke-width="0.45" >B</text>
<text transform="translate(610.40,750.10) scale(1.0651,1)" font-size="22.34" fill="#252525" font-family="Liberation Sans" stroke="#252525" stroke-width="0.45" >Ethidium Bromide</text>
<line x1="610.6" y1="771.6" x2="664" y2="771.6" stroke="#9b9b50" stroke-width="2.4"/>
<text transform="translate(671.16,779.20) scale(1.0876,1)" font-size="21.29" fill="#222" font-family="Liberation Sans" stroke="#222" stroke-width="0.45" >100</text>
<text transform="translate(716.81,779.20) scale(0.8252,1)" font-size="19.57" fill="#222" font-family="Liberation Serif" stroke="#222" stroke-width="0.3" >μ</text>
<text transform="translate(724.66,779.20) scale(1.3547,1)" font-size="21.59" fill="#222" font-family="Liberation Sans" stroke="#222" stroke-width="0.45" >M</text>
<line x1="610.6" y1="801.0" x2="664" y2="801.0" stroke="#ff33ff" stroke-width="2.4"/>
<text transform="translate(683.66,808.56) scale(1.1030,1)" font-size="21.29" fill="#222" font-family="Liberation Sans" stroke="#222" stroke-width="0.45" >50</text>
<text transform="translate(716.81,808.56) scale(0.8252,1)" font-size="19.57" fill="#222" font-family="Liberation Serif" stroke="#222" stroke-width="0.3" >μ</text>
<text transform="translate(724.66,808.56) scale(1.3547,1)" font-size="21.59" fill="#222" font-family="Liberation Sans" stroke="#222" stroke-width="0.45" >M</text>
<line x1="610.6" y1="830.3" x2="664" y2="830.3" stroke="#3f9c9c" stroke-width="2.4"/>
<text transform="translate(683.41,837.92) scale(1.1192,1)" font-size="21.29" fill="#222" font-family="Liberation Sans" stroke="#222" stroke-width="0.45" >25</text>
<text transform="translate(716.81,837.92) scale(0.8252,1)" font-size="19.57" fill="#222" font-family="Liberation Serif" stroke="#222" stroke-width="0.3" >μ</text>
<text transform="translate(724.66,837.92) scale(1.3547,1)" font-size="21.59" fill="#222" font-family="Liberation Sans" stroke="#222" stroke-width="0.45" >M</text>
<line x1="610.6" y1="859.7" x2="664" y2="859.7" stroke="#3333ff" stroke-width="2.4"/>
<text transform="translate(683.41,867.28) scale(1.1138,1)" font-size="21.29" fill="#222" font-family="Liberation Sans" stroke="#222" stroke-width="0.45" >20</text>
<text transform="translate(716.81,867.28) scale(0.8252,1)" font-size="19.57" fill="#222" font-family="Liberation Serif" stroke="#222" stroke-width="0.3" >μ</text>
<text transform="translate(724.66,867.28) scale(1.3547,1)" font-size="21.59" fill="#222" font-family="Liberation Sans" stroke="#222" stroke-width="0.45" >M</text>
<line x1="610.6" y1="889.0" x2="664" y2="889.0" stroke="#ff3b3b" stroke-width="2.4"/>
<text transform="translate(682.78,896.64) scale(1.1416,1)" font-size="21.29" fill="#222" font-family="Liberation Sans" stroke="#222" stroke-width="0.45" >10</text>
<text transform="translate(716.81,896.64) scale(0.8252,1)" font-size="19.57" fill="#222" font-family="Liberation Serif" stroke="#222" stroke-width="0.3" >μ</text>
<text transform="translate(724.66,896.64) scale(1.3547,1)" font-size="21.59" fill="#222" font-family="Liberation Sans" stroke="#222" stroke-width="0.45" >M</text>
<line x1="610.6" y1="918.4" x2="664" y2="918.4" stroke="#555555" stroke-width="2.4"/>
<text transform="translate(699.64,926.00) scale(0.8410,1)" font-size="21.59" fill="#222" font-family="Liberation Sans" stroke="#222" stroke-width="0.45" >1</text>
<text transform="translate(716.81,926.00) scale(0.8252,1)" font-size="19.57" fill="#222" font-family="Liberation Serif" stroke="#222" stroke-width="0.3" >μ</text>
<text transform="translate(724.66,926.00) scale(1.3547,1)" font-size="21.59" fill="#222" font-family="Liberation Sans" stroke="#222" stroke-width="0.45" >M</text>
</g>
<g>
<path d="M125.3,1404.4V1893.6H789.3" fill="none" stroke="#444444" stroke-width="3.6"/>
<path d="M114.4,1874.9H125.3M114.4,1796.6H125.3M114.4,1718.2H125.3M114.4,1639.9H125.3M114.4,1561.5H125.3M114.4,1483.2H125.3M114.4,1404.8H125.3M119,1835.7H125.3M119,1757.4H125.3M119,1679.0H125.3M119,1600.7H125.3M119,1522.3H125.3M119,1444.0H125.3M135.3,1893.6V1904M350.2,1893.6V1904M565.1,1893.6V1904M780.0,1893.6V1904M242.7,1893.6V1899.5M457.6,1893.6V1899.5M672.5,1893.6V1899.5" stroke="#444444" stroke-width="2.4" fill="none"/>
</g>
<clipPath id="cclip"><rect x="125.5" y="1380" width="680" height="513.6"/></clipPath>
<g clip-path="url(#cclip)"><g fill="none" stroke-width="2.7" stroke-linejoin="round">
<path d="M126.1,1872.1 128.2,1896.8 130.4,1904.4 132.5,1847.1 134.7,1817 136.8,1753.2 139,1651.1 141.1,1583.8 143.3,1600.7 145.4,1641.1 147.5,1734 149.7,1720.5 151.8,1602.6 154,1576.8 156.1,1543.3 158.3,1596.1 160.4,1594.3 162.6,1574.1 164.7,1553.7 166.9,1534.2 169,1557.3 171.2,1604.7 173.3,1645.3 175.5,1695.9 177.6,1766.8 179.8,1616.6 181.9,1592 184.1,1796.6 186.2,1694.6 188.4,1563.7 190.5,1620.4 192.7,1767.1 194.8,1496.9 197,1572.5 199.1,1520.8 201.3,1481.5 203.4,1550.2 205.6,1706.3 207.7,1601.5 209.9,1525.3 212,1619.3 214.2,1721.2 216.3,1746.2 218.5,1574.6 220.6,1623.2 222.8,1690.1 224.9,1524.2 227.1,1612.1 229.2,1712.4 231.4,1707.9 233.5,1664.3 235.7,1620.4 237.8,1567.6 240,1555 242.1,1648.2 244.2,1749.5 246.4,1721.3 248.5,1589.7 250.7,1604.5 252.8,1680.5 255,1760.1 257.1,1790.6 259.3,1752.6 261.4,1686.7 263.6,1621.4 265.7,1613.3 267.9,1786.6 270,1636.6 272.2,1621.6 274.3,1772.6 276.5,1786 278.6,1691.5 280.8,1563.1 282.9,1468.8 285.1,1549.9 287.2,1567 289.4,1486.4 291.5,1567.3 293.7,1427 295.8,1507.4 298,1521.9 300.1,1472.1 302.3,1556.1 304.4,1655.9 306.6,1691.8 308.7,1669.6 310.9,1638.6 313,1616.5 315.2,1694.4 317.3,1789.9 319.5,1692 321.6,1566.2 323.8,1586.7 325.9,1689.4 328.1,1804.6 330.2,1848 332.4,1682 334.5,1712.5 336.7,1793.2 338.8,1846.5 340.9,1838.7 343.1,1755.8 345.2,1874.6 347.4,1794.9 349.5,1758.5 351.7,1856.5 353.8,1709.1 356,1779.3 358.1,1834.6 360.3,1788 362.4,1683.9 364.6,1603 366.7,1608.1 368.9,1842.5 371,1775.8 373.2,1743.2 375.3,1858.7 377.5,1760.1 379.6,1776.5 381.8,1921.5 383.9,1754.7 386.1,1707.3 388.2,1891.8 390.4,1795.9 392.5,1667.3 394.7,1667.4 396.8,1740.8 399,1808.8 401.1,1836.7 403.3,1825.7 405.4,1793.7 407.6,1763.2 409.7,1738.9 411.9,1802.2 414,1886.5 416.2,1826.8 418.3,1755.2 420.5,1721.3 422.6,1766.8 424.8,1845.3 426.9,1902.1 429.1,1892.2 431.2,1863.4 433.4,1835.5 435.5,1818.4 437.7,1864.2 439.8,1908.8 441.9,1860.9 444.1,1802.8 446.2,1793.4 448.4,1834.5 450.5,1882.3 452.7,1902.6 454.8,1888.9 457,1862.1 459.1,1819.3 461.3,1796 463.4,1800.1 465.6,1821.4 467.7,1853.3 469.9,1876.2 472,1860.8 474.2,1771.6 476.3,1888 478.5,1863.9 480.6,1768 482.8,1802.1 484.9,1864.2 487.1,1861.3 489.2,1782.3 491.4,1814.9 493.5,1897.9 495.7,1875.7 497.8,1837.2 500,1802.4 502.1,1789.2 504.3,1884.7 506.4,1837.3 508.6,1760.4 510.7,1826.6 512.9,1900.7 515,1813.6 517.2,1782.1 519.3,1826.1 521.5,1872 523.6,1889.1 525.8,1873.4 527.9,1841.1 530.1,1810.4 532.2,1792.5 534.4,1829.3 536.5,1869.9 538.6,1812.6 540.8,1783 542.9,1797.7 545.1,1865 547.2,1902 549.4,1872.7 551.5,1798.7 553.7,1787.9 555.8,1825.7 558,1883.3 560.1,1913 562.3,1786.8 564.4,1814.7 566.6,1855.6 568.7,1887.1 570.9,1813.7 573,1856.7 575.2,1852.5 577.3,1768.8 579.5,1810.1 581.6,1864.9 583.8,1768.1 585.9,1814 588.1,1892.3 590.2,1857.8 592.4,1804 594.5,1897.9 596.7,1820.6 598.8,1784.7 601,1861.7 603.1,1822.1 605.3,1755.8 607.4,1756.9 609.6,1777.7 611.7,1808.2 613.9,1831.9 616,1822.3 618.2,1737.6 620.3,1749.5 622.5,1803.7 624.6,1755.3 626.8,1730.1 628.9,1731.7 631.1,1749.5 633.2,1767.6 635.3,1775.4 637.5,1716.6 639.6,1658 641.8,1685.7 643.9,1741.3 646.1,1812.7 648.2,1837.5 650.4,1697.9 652.5,1791.8 654.7,1864.9 656.8,1808.9 659,1754.8 661.1,1763.1 663.3,1831.5 665.4,1891.8 667.6,1893 669.7,1805.5 671.9,1831.4 674,1867.6 676.2,1912.6 678.3,1909 680.5,1916.4 682.6,1901.4 684.8,1887.8 686.9,1882.6 689.1,1918.3 691.2,1913.4 693.4,1894.6 695.5,1893.2 697.7,1892.9 699.8,1909.5 702,1909.2 704.1,1904.7 706.3,1891.8 708.4,1883.8 710.6,1883.3 712.7,1900.6 714.9,1914.8 717,1907.1 719.2,1884 721.3,1909.4 723.5,1893.4 725.6,1901.6 727.8,1926.7 729.9,1891 732,1886.9 734.2,1880.3 736.3,1897.5 738.5,1894 740.6,1898.6 742.8,1822.4 744.9,1870.9 747.1,1891.8 749.2,1876.1 751.4,1865.8 753.5,1846.9 755.7,1834.9 757.8,1841.8 760,1870.8" stroke="#f27a1e"/>
<path d="M126.1,1859.1 128.2,1876.7 130.4,1890.7 132.5,1842.7 134.7,1822.2 136.8,1821.3 139,1833 141.1,1828.2 143.3,1821.3 145.4,1803.8 147.5,1774.4 149.7,1773.1 151.8,1827.8 154,1780.4 156.1,1626.2 158.3,1540.8 160.4,1566.9 162.6,1609.5 164.7,1628.1 166.9,1709.4 169,1777.5 171.2,1745.1 173.3,1689.9 175.5,1807.1 177.6,1789 179.8,1647.4 181.9,1635.1 184.1,1588.8 186.2,1575.2 188.4,1625.5 190.5,1692.4 192.7,1674.1 194.8,1633 197,1584.7 199.1,1727.9 201.3,1646.3 203.4,1704 205.6,1676.1 207.7,1663.4 209.9,1763.4 212,1745.2 214.2,1727.7 216.3,1718.8 218.5,1610.3 220.6,1609.7 222.8,1645.8 224.9,1673.4 227.1,1702.7 229.2,1702.7 231.4,1605 233.5,1673.8 235.7,1742.9 237.8,1704.4 240,1597.8 242.1,1671.6 244.2,1759.3 246.4,1725.2 248.5,1738.6 250.7,1798.4 252.8,1707.9 255,1709.8 257.1,1733.3 259.3,1750.2 261.4,1765.8 263.6,1656.8 265.7,1690.7 267.9,1726.2 270,1769.5 272.2,1763.9 274.3,1675.1 276.5,1636.3 278.6,1576.7 280.8,1591.3 282.9,1625.4 285.1,1658.2 287.2,1705.3 289.4,1759.7 291.5,1731.8 293.7,1657.3 295.8,1603.6 298,1579.4 300.1,1624.7 302.3,1699.6 304.4,1724 306.6,1691.5 308.7,1630.2 310.9,1568.2 313,1627.3 315.2,1712.9 317.3,1654.9 319.5,1570.6 321.6,1525.1 323.8,1669.6 325.9,1708.9 328.1,1609.2 330.2,1538.9 332.4,1733.5 334.5,1684.6 336.7,1552.2 338.8,1508.9 340.9,1529.3 343.1,1597.5 345.2,1650.1 347.4,1691.8 349.5,1535.3 351.7,1586.7 353.8,1662.7 356,1607.2 358.1,1524.5 360.3,1540 362.4,1571.3 364.6,1524.2 366.7,1535.5 368.9,1585.9 371,1629.7 373.2,1650.2 375.3,1612.5 377.5,1560.2 379.6,1511 381.8,1536.2 383.9,1579.1 386.1,1610.4 388.2,1695.6 390.4,1628.4 392.5,1511.4 394.7,1623.2 396.8,1637.4 399,1566.2 401.1,1687.5 403.3,1662 405.4,1586.1 407.6,1558.5 409.7,1496.9 411.9,1557.1 414,1591.5 416.2,1471.5 418.3,1485.9 420.5,1538.8 422.6,1586.3 424.8,1633.9 426.9,1650.2 429.1,1641.9 431.2,1605.6 433.4,1601.2 435.5,1582.7 437.7,1600.6 439.8,1623.9 441.9,1657.1 444.1,1676.1 446.2,1717.7 448.4,1780.1 450.5,1708.7 452.7,1678.8 454.8,1773.3 457,1668.4 459.1,1721.8 461.3,1782.9 463.4,1665.4 465.6,1666.9 467.7,1723.7 469.9,1700.8 472,1669.9 474.2,1674.7 476.3,1685.9 478.5,1712 480.6,1720.2 482.8,1745.8 484.9,1798.7 487.1,1831.3 489.2,1818.6 491.4,1745.6 493.5,1870.5 495.7,1773.4 497.8,1737.5 500,1775.9 502.1,1829.4 504.3,1869.6 506.4,1893.9 508.6,1801.2 510.7,1852.5 512.9,1879.8 515,1856.6 517.2,1826.3 519.3,1803 521.5,1854.7 523.6,1901.6 525.8,1843.9 527.9,1812.9 530.1,1820.9 532.2,1852.2 534.4,1873.5 536.5,1851.7 538.6,1805.6 540.8,1828 542.9,1857.9 545.1,1891.1 547.2,1899.2 549.4,1826.7 551.5,1777.5 553.7,1872.4 555.8,1806.4 558,1798.9 560.1,1875.3 562.3,1813.5 564.4,1795.8 566.6,1862.1 568.7,1894.1 570.9,1886.4 573,1854.8 575.2,1833 577.3,1831.9 579.5,1844.5 581.6,1888.6 583.8,1908.3 585.9,1882.2 588.1,1833.4 590.2,1795.8 592.4,1767.2 594.5,1893.2 596.7,1835.3 598.8,1790.4 601,1840.5 603.1,1873.9 605.3,1819.4 607.4,1773.5 609.6,1744.5 611.7,1802.9 613.9,1873.3 616,1830.9 618.2,1739.1 620.3,1888.3 622.5,1835.8 624.6,1785 626.8,1844.2 628.9,1885 631.1,1852.6 633.2,1819.7 635.3,1878.9 637.5,1860 639.6,1792.8 641.8,1854.8 643.9,1910 646.1,1837.4 648.2,1832 650.4,1904.9 652.5,1882.1 654.7,1866 656.8,1847.3 659,1857.4 661.1,1881.5 663.3,1907.2 665.4,1910.7 667.6,1902.8 669.7,1893.7 671.9,1900.5 674,1912.3 676.2,1914.9 678.3,1896.5 680.5,1889.7 682.6,1899.6 684.8,1909.7 686.9,1898.9 689.1,1886.4 691.2,1906.3 693.4,1898.5 695.5,1887.7 697.7,1919.8 699.8,1919.8 702,1906.7 704.1,1887 706.3,1905.5 708.4,1917.9 710.6,1898.1 712.7,1880.2 714.9,1885.6 717,1896.7 719.2,1908.4 721.3,1913.1 723.5,1911 725.6,1898.7 727.8,1901.3 729.9,1905.6 732,1911.4 734.2,1884.7 736.3,1866.3 738.5,1891.4 740.6,1894 742.8,1850.6 744.9,1812.9 747.1,1832.5 749.2,1870.2 751.4,1816.2 753.5,1871.2 755.7,1867.3 757.8,1821.7 760,1899.5" stroke="#ff00ff"/>
<path d="M126.1,1911.1 128.2,1845.5 130.4,1816.4 132.5,1842.5 134.7,1859.8 136.8,1874.2 139,1864.6 141.1,1817.4 143.3,1767.3 145.4,1750.4 147.5,1774.2 149.7,1796.5 151.8,1797.8 154,1772 156.1,1750.1 158.3,1837.1 160.4,1780.4 162.6,1843.7 164.7,1842.2 166.9,1785.6 169,1738.1 171.2,1767.9 173.3,1839.9 175.5,1858.2 177.6,1827.5 179.8,1822.2 181.9,1794.6 184.1,1790.1 186.2,1858.2 188.4,1837 190.5,1791.5 192.7,1761 194.8,1817.3 197,1848.2 199.1,1825.8 201.3,1800.6 203.4,1886.3 205.6,1815.3 207.7,1832.4 209.9,1890.5 212,1828.5 214.2,1776.2 216.3,1791.2 218.5,1823.5 220.6,1864.7 222.8,1896.8 224.9,1894.6 227.1,1860.4 229.2,1828.8 231.4,1799.4 233.5,1802.1 235.7,1907.9 237.8,1842.6 240,1754.5 242.1,1796.3 244.2,1884.2 246.4,1826.4 248.5,1748 250.7,1764.6 252.8,1809.1 255,1835.5 257.1,1822.8 259.3,1767.1 261.4,1826.3 263.6,1821.5 265.7,1806.2 267.9,1793.1 270,1775.9 272.2,1767.5 274.3,1842.9 276.5,1795.1 278.6,1779.1 280.8,1827.8 282.9,1875.8 285.1,1826 287.2,1803.2 289.4,1864.4 291.5,1850.4 293.7,1809.8 295.8,1801.5 298,1866.9 300.1,1868.7 302.3,1788.9 304.4,1735.8 306.6,1776.4 308.7,1793.8 310.9,1754.2 313,1700.5 315.2,1652.8 317.3,1629.4 319.5,1676.3 321.6,1758 323.8,1791.2 325.9,1606 328.1,1680.6 330.2,1824.8 332.4,1885.9 334.5,1767.2 336.7,1837.7 338.8,1886.5 340.9,1856.1 343.1,1794.5 345.2,1743.4 347.4,1725.8 349.5,1739.3 351.7,1831.9 353.8,1884.3 356,1885.6 358.1,1819.1 360.3,1757.1 362.4,1799.3 364.6,1843.7 366.7,1712.3 368.9,1836.6 371,1829.5 373.2,1721.8 375.3,1719.9 377.5,1833.7 379.6,1905 381.8,1882.7 383.9,1806.7 386.1,1741.2 388.2,1770.2 390.4,1830.5 392.5,1871.8 394.7,1865.4 396.8,1819.8 399,1767.3 401.1,1741.9 403.3,1862.9 405.4,1900.2 407.6,1792.4 409.7,1769 411.9,1851.4 414,1793.9 416.2,1783.2 418.3,1895.8 420.5,1790.7 422.6,1786.7 424.8,1878.3 426.9,1875 429.1,1760.5 431.2,1805 433.4,1853.8 435.5,1861.6 437.7,1840.8 439.8,1790.7 441.9,1785 444.1,1804 446.2,1839.5 448.4,1892.7 450.5,1891 452.7,1807.2 454.8,1823.6 457,1920.1 459.1,1865.2 461.3,1772.3 463.4,1753.6 465.6,1809.8 467.7,1861 469.9,1816.9 472,1768.4 474.2,1792.7 476.3,1857.4 478.5,1768.3 480.6,1758.7 482.8,1849.7 484.9,1820 487.1,1792.1 489.2,1765.7 491.4,1760.2 493.5,1766.3 495.7,1738.3 497.8,1716.6 500,1690.1 502.1,1733.6 504.3,1755.1 506.4,1744.2 508.6,1744.3 510.7,1734.5 512.9,1725.2 515,1670.5 517.2,1605.7 519.3,1620.4 521.5,1667.9 523.6,1692.7 525.8,1622.6 527.9,1594.7 530.1,1656.1 532.2,1707.6 534.4,1680.4 536.5,1639.9 538.6,1650.4 540.8,1709.5 542.9,1698.1 545.1,1646.7 547.2,1613.5 549.4,1588.8 551.5,1623.1 553.7,1659.1 555.8,1655.3 558,1682.4 560.1,1729.2 562.3,1769.1 564.4,1781.7 566.6,1766.1 568.7,1734.9 570.9,1693.9 573,1745.4 575.2,1804.8 577.3,1783.2 579.5,1752.5 581.6,1735.1 583.8,1741.4 585.9,1795.2 588.1,1852.3 590.2,1882 592.4,1819.7 594.5,1781.6 596.7,1874.6 598.8,1863.6 601,1806.7 603.1,1763.6 605.3,1784.4 607.4,1815.6 609.6,1742 611.7,1766.3 613.9,1808.4 616,1765.5 618.2,1679.6 620.3,1720.1 622.5,1740.7 624.6,1694.1 626.8,1637.9 628.9,1616 631.1,1603.6 633.2,1573.5 635.3,1549.8 637.5,1545.7 639.6,1593.1 641.8,1489.5 643.9,1530.3 646.1,1546.2 648.2,1518.9 650.4,1478.4 652.5,1495.1 654.7,1520.4 656.8,1556.1 659,1584.9 661.1,1660.4 663.3,1690.9 665.4,1690.9 667.6,1689.8 669.7,1683.2 671.9,1700.4 674,1770.6 676.2,1779.2 678.3,1755.8 680.5,1731.6 682.6,1729.9 684.8,1730.3 686.9,1780 689.1,1813 691.2,1823.4 693.4,1798.8 695.5,1741.6 697.7,1734.6 699.8,1821.6 702,1716.5 704.1,1794 706.3,1772.3 708.4,1644.1 710.6,1516.1 712.7,1534.5 714.9,1570.5 717,1629.3 719.2,1660.6 721.3,1687.6 723.5,1696.8 725.6,1747.5 727.8,1779.9 729.9,1773.7 732,1745.8 734.2,1710.4 736.3,1728.8 738.5,1778.1 740.6,1719.8 742.8,1728.9 744.9,1788 747.1,1746.9 749.2,1723.8 751.4,1735.9 753.5,1755.6 755.7,1792.8 757.8,1795.3 760,1770.1" stroke="#7d7d1c"/>
<path d="M126.1,1790 128.2,1823.7 130.4,1790.5 132.5,1747.4 134.7,1839.6 136.8,1845.9 139,1849.1 141.1,1833.5 143.3,1825.4 145.4,1852.3 147.5,1887.1 149.7,1846.9 151.8,1893.7 154,1830.4 156.1,1750.1 158.3,1734 160.4,1760 162.6,1756.1 164.7,1600.5 166.9,1653.4 169,1733.2 171.2,1799.4 173.3,1826.2 175.5,1807.8 177.6,1806.9 179.8,1812.5 181.9,1826.8 184.1,1844.3 186.2,1857.9 188.4,1864.7 190.5,1665.4 192.7,1640.6 194.8,1746.7 197,1858.2 199.1,1872.9 201.3,1800.2 203.4,1781.1 205.6,1822.9 207.7,1829 209.9,1811.8 212,1794.9 214.2,1804.3 216.3,1853.3 218.5,1890 220.6,1892.2 222.8,1875.3 224.9,1832.7 227.1,1794.4 229.2,1770.6 231.4,1774.7 233.5,1830.3 235.7,1884.6 237.8,1899.7 240,1864.3 242.1,1797.5 244.2,1781.7 246.4,1802.6 248.5,1899.9 250.7,1909.7 252.8,1862.4 255,1788.4 257.1,1771.5 259.3,1876.3 261.4,1885.3 263.6,1745.4 265.7,1837.8 267.9,1898 270,1750.2 272.2,1859.5 274.3,1902.1 276.5,1788.1 278.6,1767.5 280.8,1814 282.9,1851.1 285.1,1894.9 287.2,1907.6 289.4,1887.3 291.5,1838.2 293.7,1843.9 295.8,1866.9 298,1906 300.1,1918.8 302.3,1884.4 304.4,1835.4 306.6,1850.5 308.7,1869.2 310.9,1904.2 313,1910.9 315.2,1911.7 317.3,1865.8 319.5,1870.4 321.6,1906.5 323.8,1933.7 325.9,1936 328.1,1906 330.2,1878.2 332.4,1889.3 334.5,1914.9 336.7,1932.5 338.8,1934 340.9,1881.8 343.1,1892.7 345.2,1933.4 347.4,1927.4 349.5,1911.5 351.7,1895.9 353.8,1891.1 356,1945.6 358.1,1912.1 360.3,1890.7 362.4,1938 364.6,1910.9 366.7,1918.9 368.9,1902.6 371,1912.7 373.2,1927.5 375.3,1936.3 377.5,1910.7 379.6,1888.5 381.8,1910.5 383.9,1940.4 386.1,1931.4 388.2,1889.5 390.4,1907.9 392.5,1947.5 394.7,1899.6 396.8,1903.1 399,1941.6 401.1,1934.2 403.3,1887.2 405.4,1834.4 407.6,1822.3 409.7,1824.9 411.9,1860.4 414,1876 416.2,1800.9 418.3,1775.7 420.5,1801.5 422.6,1826 424.8,1834.5 426.9,1838.7 429.1,1825 431.2,1824.8 433.4,1815.8 435.5,1868.8 437.7,1920.4 439.8,1909.7 441.9,1892 444.1,1926.9 446.2,1934.1 448.4,1921 450.5,1905.9 452.7,1880.3 454.8,1917.9 457,1927.4 459.1,1890.6 461.3,1882.6 463.4,1899.8 465.6,1918.6 467.7,1937.9 469.9,1929.3 472,1908.2 474.2,1892.8 476.3,1906.4 478.5,1918 480.6,1931.3 482.8,1918 484.9,1900.3 487.1,1920.4 489.2,1934.7 491.4,1928.5 493.5,1916.7 495.7,1887.8 497.8,1937.8 500,1927.3 502.1,1900.3 504.3,1886.7 506.4,1928.5 508.6,1898.8 510.7,1892.1 512.9,1909 515,1928.5 517.2,1913.9 519.3,1904.5 521.5,1879.2 523.6,1860.5 525.8,1901.5 527.9,1931.6 530.1,1896.6 532.2,1927.6 534.4,1925.7 536.5,1881.1 538.6,1888.5 540.8,1909.2 542.9,1931.3 545.1,1941.3 547.2,1934.8 549.4,1929.7 551.5,1910.2 553.7,1903.2 555.8,1900.6 558,1915.2 560.1,1925.7 562.3,1913.8 564.4,1893.2 566.6,1893.9 568.7,1909.6 570.9,1928 573,1937.3 575.2,1938 577.3,1887.4 579.5,1916.6 581.6,1936.8 583.8,1903.9 585.9,1884.5 588.1,1923.2 590.2,1936.1 592.4,1923.4 594.5,1912.2 596.7,1889.2 598.8,1899.7 601,1908.5 603.1,1922.5 605.3,1930.1 607.4,1919.3 609.6,1889.8 611.7,1926.9 613.9,1934.7 616,1906 618.2,1889.1 620.3,1933.1 622.5,1937 624.6,1913.2 626.8,1904.1 628.9,1918 631.1,1939 633.2,1933.4 635.3,1919.8 637.5,1870.8 639.6,1814.8 641.8,1792 643.9,1772.3 646.1,1705.3 648.2,1668.7 650.4,1717.3 652.5,1798.8 654.7,1819.5 656.8,1713.1 659,1749.5 661.1,1808 663.3,1850.1 665.4,1852.5 667.6,1802.2 669.7,1765.8 671.9,1784.9 674,1898 676.2,1847.4 678.3,1805 680.5,1841 682.6,1881.8 684.8,1913.2 686.9,1909.6 689.1,1875.9 691.2,1834.1 693.4,1848.9 695.5,1881 697.7,1902.5 699.8,1925.8 702,1936.5 704.1,1876.8 706.3,1885 708.4,1901 710.6,1902.9 712.7,1906.2 714.9,1884.7 717,1846.9 719.2,1876.9 721.3,1925.1 723.5,1912.4 725.6,1868.9 727.8,1869.6 729.9,1918.7 732,1936.4 734.2,1903.1 736.3,1883.9 738.5,1876.5 740.6,1891.7 742.8,1923.5 744.9,1903.8 747.1,1855.7 749.2,1811.8 751.4,1777.8 753.5,1757.3 755.7,1767.8 757.8,1662.9 760,1663.5" stroke="#161616"/>
</g></g>
<g>
<text transform="translate(65.80,1412.30) scale(0.9964,1)" font-size="25.43" fill="#222" font-family="Liberation Sans" stroke="#222" stroke-width="0.45" >120</text>
<text transform="translate(65.80,1490.65) scale(0.9964,1)" font-size="25.43" fill="#222" font-family="Liberation Sans" stroke="#222" stroke-width="0.45" >100</text>
<text transform="translate(79.34,1569.00) scale(1.0156,1)" font-size="25.43" fill="#222" font-family="Liberation Sans" stroke="#222" stroke-width="0.45" >80</text>
<text transform="translate(79.20,1647.35) scale(1.0206,1)" font-size="25.43" fill="#222" font-family="Liberation Sans" stroke="#222" stroke-width="0.45" >60</text>
<text transform="translate(80.00,1725.70) scale(0.9915,1)" font-size="25.43" fill="#222" font-family="Liberation Sans" stroke="#222" stroke-width="0.45" >40</text>
<text transform="translate(79.20,1804.05) scale(1.0206,1)" font-size="25.43" fill="#222" font-family="Liberation Sans" stroke="#222" stroke-width="0.45" >20</text>
<text transform="translate(93.67,1882.40) scale(1.0159,1)" font-size="25.43" fill="#222" font-family="Liberation Sans" stroke="#222" stroke-width="0.45" >0</text>
<text transform="translate(127.60,1930.90) scale(1.0815,1)" font-size="25.43" fill="#222" font-family="Liberation Sans" stroke="#222" stroke-width="0.45" >0</text>
<text transform="translate(329.54,1930.90) scale(0.9762,1)" font-size="25.43" fill="#222" font-family="Liberation Sans" stroke="#222" stroke-width="0.45" >100</text>
<text transform="translate(544.28,1930.90) scale(0.9607,1)" font-size="25.43" fill="#222" font-family="Liberation Sans" stroke="#222" stroke-width="0.45" >200</text>
<text transform="translate(759.83,1930.90) scale(0.9547,1)" font-size="25.43" fill="#222" font-family="Liberation Sans" stroke="#222" stroke-width="0.45" >300</text>
<text transform="translate(400.87,1977.80) scale(1.0788,1)" font-size="29.10" fill="#222" font-family="Liberation Sans" stroke="#222" stroke-width="0.45" >Time (s)</text>
<text transform="translate(25.40,1766.78) rotate(-90) scale(1.0876,1)" font-size="28.55" fill="#222" font-family="Liberation Sans" stroke="#222" stroke-width="0.45">Response (RU)</text>
<text transform="translate(57.66,1990.90) scale(0.9291,1)" font-size="65.43" fill="#000" font-family="Liberation Sans" stroke="#000" stroke-width="0.45" >C</text>
<text transform="translate(672.45,1378.70) scale(1.1186,1)" font-size="20.69" fill="#252525" font-family="Liberation Sans" stroke="#252525" stroke-width="0.45" >Propidium Iodide</text>
<line x1="672.4" y1="1399.4" x2="724.8" y2="1399.4" stroke="#a0a05a" stroke-width="2.4"/>
<text transform="translate(731.75,1406.90) scale(1.0798,1)" font-size="20.43" fill="#222" font-family="Liberation Sans" stroke="#222" stroke-width="0.45" >100</text>
<text transform="translate(775.38,1406.90) scale(1.0012,1)" font-size="20.22" fill="#222" font-family="Liberation Serif" stroke="#222" stroke-width="0.3" >μ</text>
<text transform="translate(785.55,1406.90) scale(1.2387,1)" font-size="20.72" fill="#222" font-family="Liberation Sans" stroke="#222" stroke-width="0.45" >M</text>
<line x1="672.4" y1="1428.2" x2="724.8" y2="1428.2" stroke="#ff33ff" stroke-width="2.4"/>
<text transform="translate(744.33,1435.70) scale(1.0642,1)" font-size="20.43" fill="#222" font-family="Liberation Sans" stroke="#222" stroke-width="0.45" >50</text>
<text transform="translate(775.38,1435.70) scale(1.0012,1)" font-size="20.22" fill="#222" font-family="Liberation Serif" stroke="#222" stroke-width="0.3" >μ</text>
<text transform="translate(785.55,1435.70) scale(1.2387,1)" font-size="20.72" fill="#222" font-family="Liberation Sans" stroke="#222" stroke-width="0.45" >M</text>
<line x1="672.4" y1="1457.0" x2="724.8" y2="1457.0" stroke="#f59a50" stroke-width="2.4"/>
<text transform="translate(756.64,1464.50) scale(1.0361,1)" font-size="20.72" fill="#222" font-family="Liberation Sans" stroke="#222" stroke-width="0.45" >5</text>
<text transform="translate(775.38,1464.50) scale(1.0012,1)" font-size="20.22" fill="#222" font-family="Liberation Serif" stroke="#222" stroke-width="0.3" >μ</text>
<text transform="translate(785.55,1464.50) scale(1.2387,1)" font-size="20.72" fill="#222" font-family="Liberation Sans" stroke="#222" stroke-width="0.45" >M</text>
<line x1="672.4" y1="1485.8" x2="724.8" y2="1485.8" stroke="#444444" stroke-width="2.4"/>
<text transform="translate(758.91,1493.30) scale(0.6988,1)" font-size="20.72" fill="#222" font-family="Liberation Sans" stroke="#222" stroke-width="0.45" >1</text>
<text transform="translate(775.38,1493.30) scale(1.0012,1)" font-size="20.22" fill="#222" font-family="Liberation Serif" stroke="#222" stroke-width="0.3" >μ</text>
<text transform="translate(785.55,1493.30) scale(1.2387,1)" font-size="20.72" fill="#222" font-family="Liberation Sans" stroke="#222" stroke-width="0.45" >M</text>
</g>
</g>
</svg></body></html>
